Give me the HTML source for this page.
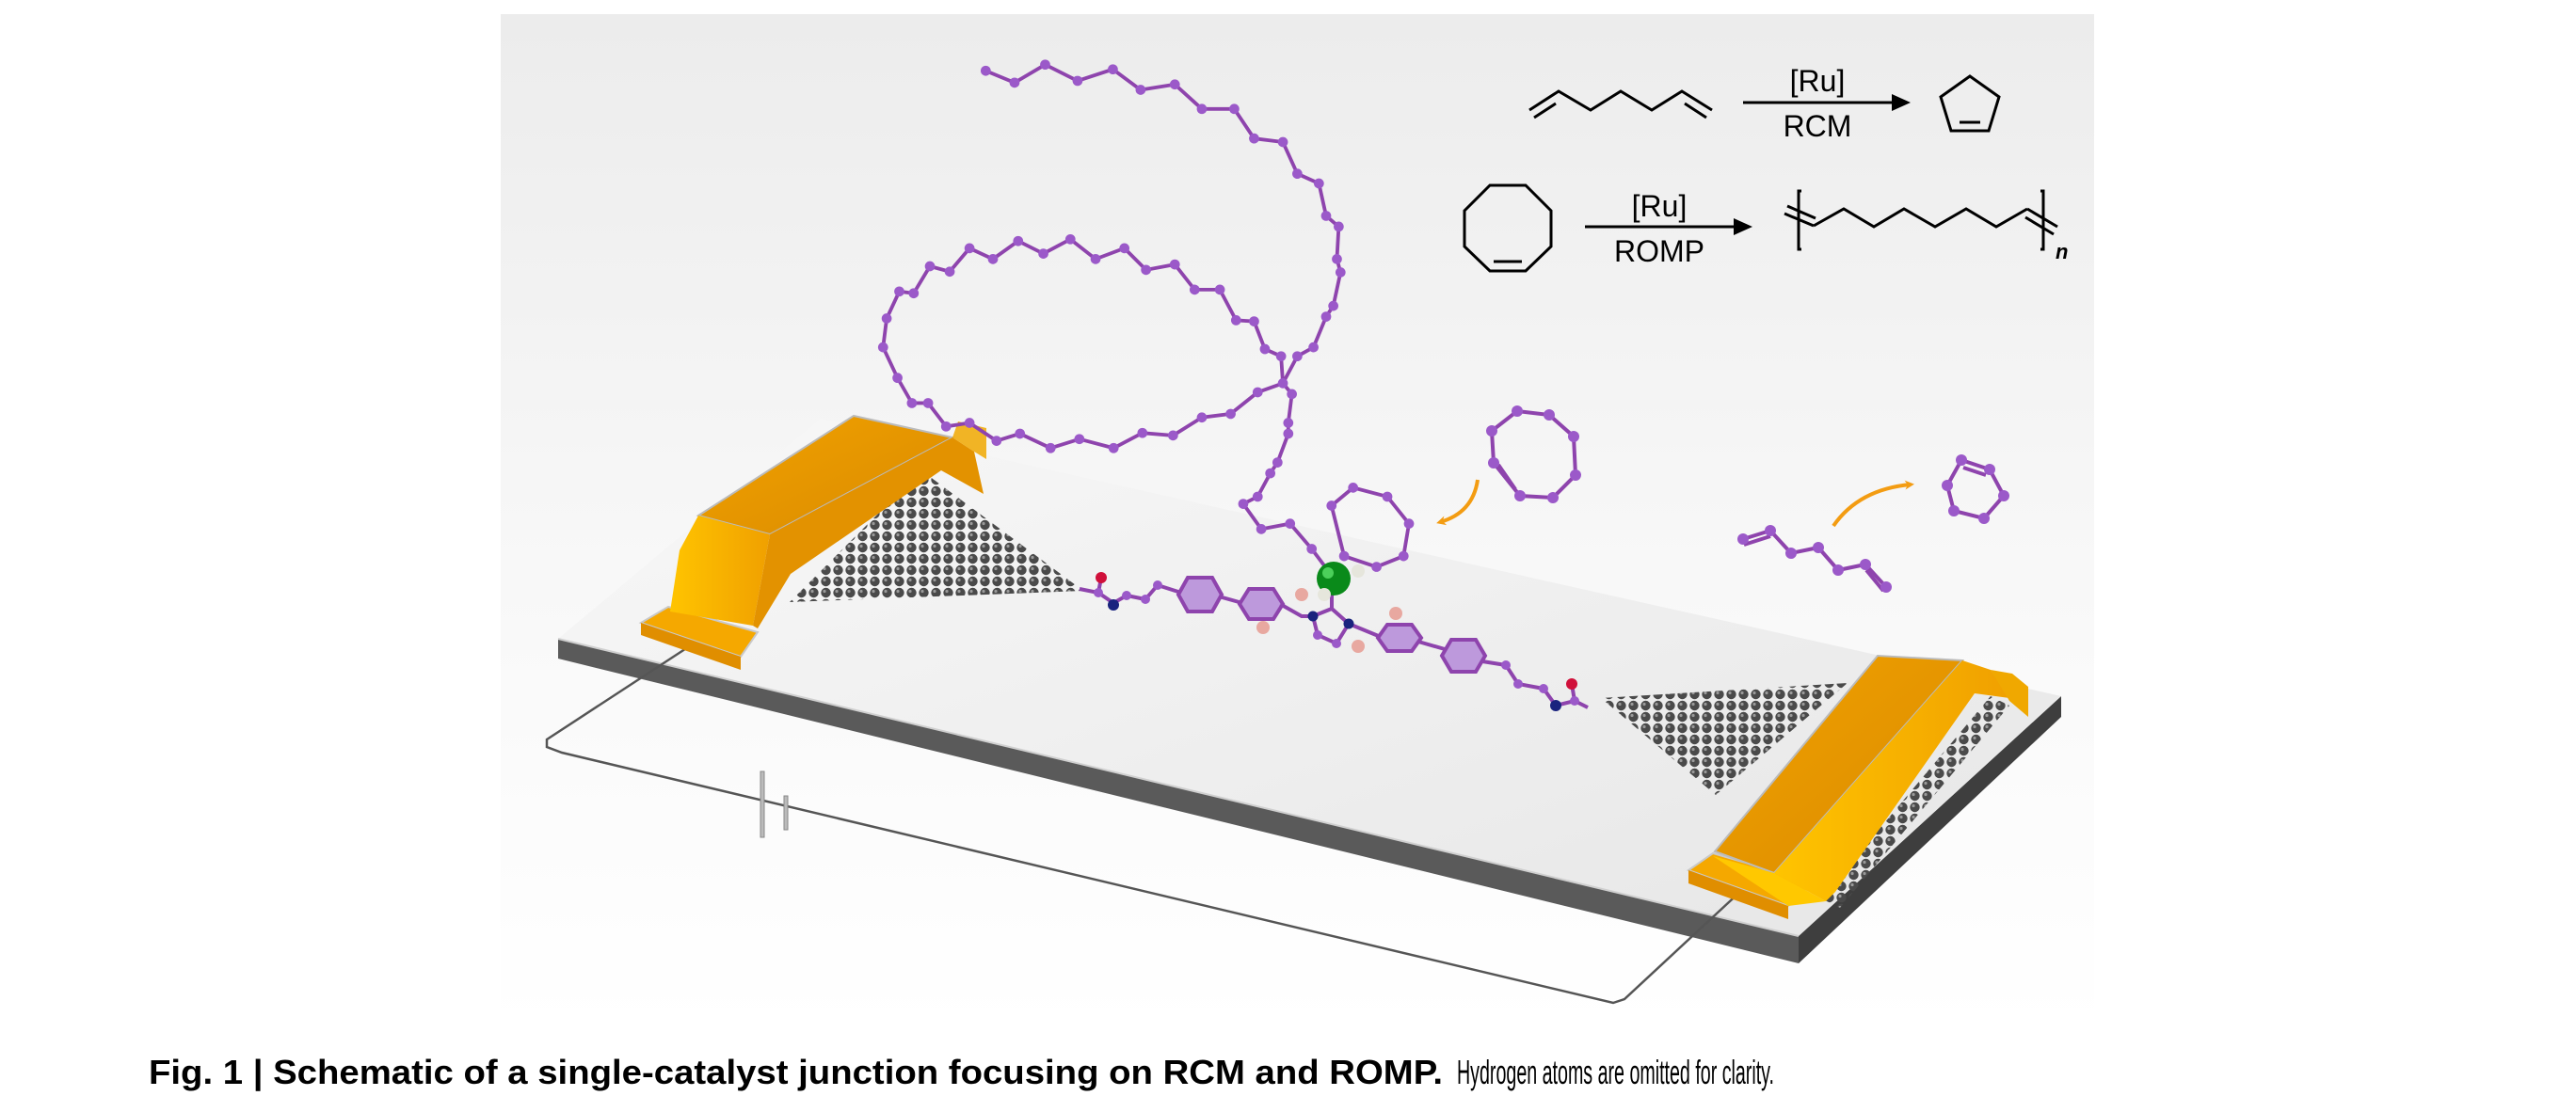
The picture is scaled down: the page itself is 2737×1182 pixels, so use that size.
<!DOCTYPE html>
<html><head><meta charset="utf-8"><style>
html,body{margin:0;padding:0;background:#fff;}
svg{display:block;}
</style></head><body>
<svg width="2737" height="1182" viewBox="0 0 2737 1182" xmlns="http://www.w3.org/2000/svg">
<defs>
<linearGradient id="bg" x1="0" y1="0" x2="0" y2="1">
<stop offset="0" stop-color="#ececec"/><stop offset="0.55" stop-color="#f8f8f8"/><stop offset="1" stop-color="#ffffff"/>
</linearGradient>
<linearGradient id="slab" x1="0" y1="0" x2="1" y2="1">
<stop offset="0" stop-color="#f8f8f8"/><stop offset="1" stop-color="#e6e6e6"/>
</linearGradient>
<linearGradient id="gold" x1="0" y1="0" x2="1" y2="0">
<stop offset="0" stop-color="#ffc400"/><stop offset="1" stop-color="#f0a000"/>
</linearGradient>
<linearGradient id="gold2" x1="0" y1="0" x2="1" y2="1">
<stop offset="0" stop-color="#f2a200"/><stop offset="1" stop-color="#d98a00"/>
</linearGradient>
<pattern id="gr" width="13" height="12" patternUnits="userSpaceOnUse">
<circle cx="6.5" cy="6" r="5.2" fill="#4a4a4a"/>
<circle cx="5" cy="4.5" r="1.6" fill="#9a9a9a"/>
</pattern>
<marker id="ah" markerWidth="10" markerHeight="10" refX="6" refY="5" orient="auto" markerUnits="userSpaceOnUse">
<path d="M0,0 L10,5 L0,10 L3,5 z" fill="#f39c12"/>
</marker>
</defs>

<rect x="532" y="15" width="1693" height="1077" fill="url(#bg)"/>

<!-- slab -->
<polygon points="593,679 1911,995 1911,1024 593,700" fill="#5a5a5a"/>
<polygon points="1911,995 2190,740 2190,762 1911,1024" fill="#3e3e3e"/>
<polygon points="593,679 872,445 2190,740 1911,995" fill="url(#slab)"/>
<line x1="593" y1="679" x2="1911" y2="995" stroke="#cfcfcf" stroke-width="2"/>

<!-- wires -->
<polyline points="737,684 581,786 581,794 597,800 1714,1066 1726,1062 1852,945" fill="none" stroke="#555" stroke-width="2.5"/>
<rect x="808" y="820" width="4" height="70" fill="#bbb" stroke="#888" stroke-width="1"/>
<rect x="833" y="846" width="4" height="36" fill="#bbb" stroke="#888" stroke-width="1"/>

<!-- graphene -->
<polygon points="839,640 979,500 1151,628" fill="url(#gr)"/>
<polygon points="1701,742 1963,726 1823,845" fill="url(#gr)"/>
<polygon points="1935,955 2115,740 2135,750 1955,965" fill="url(#gr)"/>

<!-- left pad -->
<polygon points="710,645 681,662 787,698 805,672" fill="#f5a800" stroke="#c9c9c9" stroke-width="2"/>
<polygon points="681,662 787,698 787,712 681,675" fill="#e08e00"/>
<polygon points="742,548 907,442 1012,465 818,568" fill="url(#gold2)" stroke="#bbb" stroke-width="2"/>
<polygon points="722,585 742,548 818,568 800,665 712,650" fill="url(#gold)"/>
<polygon points="818,568 1012,465 1035,480 1045,525 1000,500 840,610 805,668 800,665" fill="#e39200"/>
<polygon points="1012,465 1035,480 1048,488 1048,455 1018,448" fill="#f0a800" opacity="0.85"/>

<!-- right pad -->
<polygon points="1820,907 1794,925 1900,963 1928,938" fill="#f5a800" stroke="#c9c9c9" stroke-width="2"/>
<polygon points="1794,925 1900,963 1900,977 1794,939" fill="#e08e00"/>
<polygon points="1822,905 1995,697 2085,702 1885,928" fill="url(#gold2)" stroke="#bbb" stroke-width="2"/>
<polygon points="1820,910 1885,928 1940,958 1900,963" fill="#ffc800"/>
<polygon points="1885,928 2085,702 2115,712 2135,742 2098,737 1950,948 1940,958" fill="url(#gold)"/>
<polygon points="2115,712 2138,716 2155,730 2155,762 2135,745" fill="#f0a800"/>

<!-- polymer -->
<g transform="translate(900,40) scale(0.3827)" fill="#9b59c9" stroke="#8e44ad">
<polyline fill="none" stroke-width="10" points="385,92 465,125 550,75 640,120 738,88 815,145 910,130 985,198 1075,198 1130,280 1210,290 1250,378 1310,405 1330,495 1365,525 1360,615 1370,652 1350,745 1330,775 1295,860 1250,885 1210,960 1235,990 1225,1070 1225,1100 1195,1180 1175,1210 1140,1275 1100,1295 1150,1365 1230,1350 1290,1420 1335,1480"/>
<polyline fill="none" stroke-width="10" points="1210,960 1140,985 1065,1045 985,1055 905,1105 820,1098 740,1140 645,1115 565,1140 480,1100 415,1120 340,1070 275,1080 225,1015 180,1015 140,945 100,860 110,780 145,705 185,710 230,635 285,650 340,585 405,615 475,565 545,600 620,560 690,615 770,585 830,645 910,630 965,700 1035,700 1080,785 1130,788 1160,865 1205,885 1210,960"/>
<polygon fill="none" stroke-width="10" points="1345,1300 1405,1250 1500,1275 1560,1350 1545,1440 1470,1470 1380,1440"/>
<g stroke="none">
<circle cx="385" cy="92" r="14"/><circle cx="465" cy="125" r="14"/><circle cx="550" cy="75" r="14"/><circle cx="640" cy="120" r="14"/><circle cx="738" cy="88" r="14"/><circle cx="815" cy="145" r="14"/><circle cx="910" cy="130" r="14"/><circle cx="985" cy="198" r="14"/><circle cx="1075" cy="198" r="14"/><circle cx="1130" cy="280" r="14"/><circle cx="1210" cy="290" r="14"/><circle cx="1250" cy="378" r="14"/><circle cx="1310" cy="405" r="14"/><circle cx="1330" cy="495" r="14"/><circle cx="1365" cy="525" r="14"/><circle cx="1360" cy="615" r="14"/><circle cx="1370" cy="652" r="14"/><circle cx="1350" cy="745" r="14"/><circle cx="1330" cy="775" r="14"/><circle cx="1295" cy="860" r="14"/><circle cx="1250" cy="885" r="14"/><circle cx="1210" cy="960" r="14"/><circle cx="1235" cy="990" r="14"/><circle cx="1225" cy="1070" r="14"/><circle cx="1225" cy="1100" r="14"/><circle cx="1195" cy="1180" r="14"/><circle cx="1175" cy="1210" r="14"/><circle cx="1140" cy="1275" r="14"/><circle cx="1100" cy="1295" r="14"/><circle cx="1150" cy="1365" r="14"/><circle cx="1230" cy="1350" r="14"/><circle cx="1290" cy="1420" r="14"/>
<circle cx="1140" cy="985" r="14"/><circle cx="1065" cy="1045" r="14"/><circle cx="985" cy="1055" r="14"/><circle cx="905" cy="1105" r="14"/><circle cx="820" cy="1098" r="14"/><circle cx="740" cy="1140" r="14"/><circle cx="645" cy="1115" r="14"/><circle cx="565" cy="1140" r="14"/><circle cx="480" cy="1100" r="14"/><circle cx="415" cy="1120" r="14"/><circle cx="340" cy="1070" r="14"/><circle cx="275" cy="1080" r="14"/><circle cx="225" cy="1015" r="14"/><circle cx="180" cy="1015" r="14"/><circle cx="140" cy="945" r="14"/><circle cx="100" cy="860" r="14"/><circle cx="110" cy="780" r="14"/><circle cx="145" cy="705" r="14"/><circle cx="185" cy="710" r="14"/><circle cx="230" cy="635" r="14"/><circle cx="285" cy="650" r="14"/><circle cx="340" cy="585" r="14"/><circle cx="405" cy="615" r="14"/><circle cx="475" cy="565" r="14"/><circle cx="545" cy="600" r="14"/><circle cx="620" cy="560" r="14"/><circle cx="690" cy="615" r="14"/><circle cx="770" cy="585" r="14"/><circle cx="830" cy="645" r="14"/><circle cx="910" cy="630" r="14"/><circle cx="965" cy="700" r="14"/><circle cx="1035" cy="700" r="14"/><circle cx="1080" cy="785" r="14"/><circle cx="1130" cy="788" r="14"/><circle cx="1160" cy="865" r="14"/><circle cx="1205" cy="885" r="14"/>
<circle cx="1345" cy="1300" r="14"/><circle cx="1405" cy="1250" r="14"/><circle cx="1500" cy="1275" r="14"/><circle cx="1560" cy="1350" r="14"/><circle cx="1545" cy="1440" r="14"/><circle cx="1470" cy="1470" r="14"/><circle cx="1380" cy="1440" r="14"/>
</g>
</g>

<!-- molecular wire -->
<g stroke="#8e44ad" stroke-width="4" fill="none">
<polyline points="1147,626 1167,630 1183,641 1197,633 1217,637 1230,622 1255,630"/>
<polyline points="1295,634 1320,641"/>
<polyline points="1360,642 1383,655 1395,655 1415,647 1433,663 1467,677"/>
<polyline points="1395,655 1400,675 1420,684 1433,663"/>
<polyline points="1507,682 1535,690"/>
<polyline points="1575,703 1600,707 1613,727 1640,732 1653,750 1673,745 1687,752"/>
<line x1="1167" y1="630" x2="1170" y2="614"/><line x1="1673" y1="745" x2="1670" y2="727"/>
<line x1="1415" y1="615" x2="1415" y2="647"/>
</g>
<g fill="#b48ad8" fill-opacity="0.85" stroke="#8e44ad" stroke-width="4">
<polygon points="1262,614 1288,614 1298,632 1288,650 1262,650 1252,632"/>
<polygon points="1327,626 1353,626 1363,642 1353,658 1327,658 1317,642"/>
<polygon points="1474,664 1500,664 1510,678 1500,692 1474,692 1464,678"/>
<polygon points="1542,680 1568,680 1578,697 1568,714 1542,714 1532,697"/>
</g>
<g fill="#9b59c9">
<circle cx="1167" cy="630" r="5"/><circle cx="1197" cy="633" r="5"/><circle cx="1217" cy="637" r="5"/><circle cx="1230" cy="622" r="5"/>
<circle cx="1600" cy="707" r="5"/><circle cx="1613" cy="727" r="5"/><circle cx="1640" cy="732" r="5"/><circle cx="1673" cy="745" r="5"/>
<circle cx="1400" cy="675" r="5"/><circle cx="1420" cy="684" r="5"/>
</g>
<circle cx="1170" cy="614" r="6" fill="#d0103a"/><circle cx="1183" cy="643" r="6" fill="#1a237e"/>
<circle cx="1670" cy="727" r="6" fill="#d0103a"/><circle cx="1653" cy="750" r="6" fill="#1a237e"/>
<circle cx="1395" cy="655" r="5.5" fill="#1a237e"/><circle cx="1433" cy="663" r="5.5" fill="#1a237e"/>
<circle cx="1383" cy="632" r="7" fill="#e8a8a0"/><circle cx="1342" cy="667" r="7" fill="#e8a8a0"/>
<circle cx="1483" cy="652" r="7" fill="#e8a8a0"/><circle cx="1443" cy="687" r="7" fill="#e8a8a0"/>
<circle cx="1417" cy="615" r="18" fill="#0a8a1a"/><circle cx="1411" cy="609" r="6" fill="#4cd05a"/>
<circle cx="1443" cy="607" r="7" fill="#e6e6dc"/><circle cx="1407" cy="632" r="7" fill="#e6e6dc"/>

<!-- floating molecules -->
<g stroke="#8e44ad" stroke-width="4" fill="none">
<polygon points="1612,437 1646,441 1672,464 1674,505 1650,529 1615,527 1587,492 1585,458"/>
<line x1="1592" y1="494" x2="1610" y2="520"/>
<polygon points="2084,489 2114,499 2129,527 2108,551 2076,543 2069,516"/>
<line x1="2086" y1="497" x2="2110" y2="505"/>
<polyline points="1852,573 1881,564 1903,588 1932,582 1953,606 1982,600 2004,624"/>
<line x1="1853" y1="579" x2="1881" y2="570"/><line x1="1983" y1="606" x2="2001" y2="628"/>
</g>
<g fill="#9b59c9">
<circle cx="1612" cy="437" r="6"/><circle cx="1646" cy="441" r="6"/><circle cx="1672" cy="464" r="6"/><circle cx="1674" cy="505" r="6"/><circle cx="1650" cy="529" r="6"/><circle cx="1615" cy="527" r="6"/><circle cx="1587" cy="492" r="6"/><circle cx="1585" cy="458" r="6"/>
<circle cx="2084" cy="489" r="6"/><circle cx="2114" cy="499" r="6"/><circle cx="2129" cy="527" r="6"/><circle cx="2108" cy="551" r="6"/><circle cx="2076" cy="543" r="6"/><circle cx="2069" cy="516" r="6"/>
<circle cx="1852" cy="573" r="6"/><circle cx="1881" cy="564" r="6"/><circle cx="1903" cy="588" r="6"/><circle cx="1932" cy="582" r="6"/><circle cx="1953" cy="606" r="6"/><circle cx="1982" cy="600" r="6"/><circle cx="2004" cy="624" r="6"/>
</g>
<path d="M1570,510 Q1565,545 1530,555" fill="none" stroke="#f39c12" stroke-width="4" marker-end="url(#ah)"/>
<path d="M1948,559 Q1975,520 2030,515" fill="none" stroke="#f39c12" stroke-width="4" marker-end="url(#ah)"/>

<!-- reaction scheme -->
<g fill="none" stroke="#000" stroke-width="3">
<polyline points="1625,117 1656,97 1690,117 1722,97 1755,117 1787,97 1819,117"/>
<line x1="1630" y1="125" x2="1653" y2="110"/>
<line x1="1790" y1="110" x2="1813" y2="125"/>
<line x1="1852" y1="109" x2="2015" y2="109"/>
<polygon points="2093,81 2124,103 2113,139 2073,139 2062,103"/>
<line x1="2082" y1="130" x2="2104" y2="130"/>
<polygon points="1583,197 1621,197 1648,224 1648,262 1621,288 1583,288 1556,262 1556,224"/>
<line x1="1587" y1="278" x2="1617" y2="278"/>
<line x1="1684" y1="241" x2="1850" y2="241"/>
<polyline points="1927,240 1959,222 1991,241 2023,222 2056,241 2089,222 2121,241 2154,222"/>
<line x1="1896" y1="227" x2="1927" y2="240"/><line x1="1899" y1="219" x2="1929" y2="232"/>
<line x1="2154" y1="222" x2="2186" y2="241"/><line x1="2152" y1="231" x2="2182" y2="249"/>
<polyline points="1914,203 1911,203 1911,265 1914,265"/>
<polyline points="2168,203 2171,203 2171,265 2168,265"/>
</g>
<polygon points="2030,109 2010,100 2010,118" fill="#000"/>
<polygon points="1862,241 1842,232 1842,250" fill="#000"/>
<g font-family="Liberation Sans, sans-serif" font-size="32" fill="#000" text-anchor="middle">
<text x="1931" y="97">[Ru]</text>
<text x="1931" y="145">RCM</text>
<text x="1763" y="230">[Ru]</text>
<text x="1763" y="278">ROMP</text>
</g>
<text x="2184" y="275" font-family="Liberation Sans, sans-serif" font-size="22" font-style="italic" font-weight="bold">n</text>

<!-- caption -->
<text x="158" y="1152" font-family="Liberation Sans Narrow, Liberation Sans, sans-serif" font-size="36" font-weight="bold" textLength="1375" lengthAdjust="spacingAndGlyphs">Fig. 1 | Schematic of a single-catalyst junction focusing on RCM and ROMP.</text>
<text x="1548" y="1152" font-family="Liberation Sans Narrow, Liberation Sans, sans-serif" font-size="36" textLength="337" lengthAdjust="spacingAndGlyphs">Hydrogen atoms are omitted for clarity.</text>
</svg>
</body></html>
